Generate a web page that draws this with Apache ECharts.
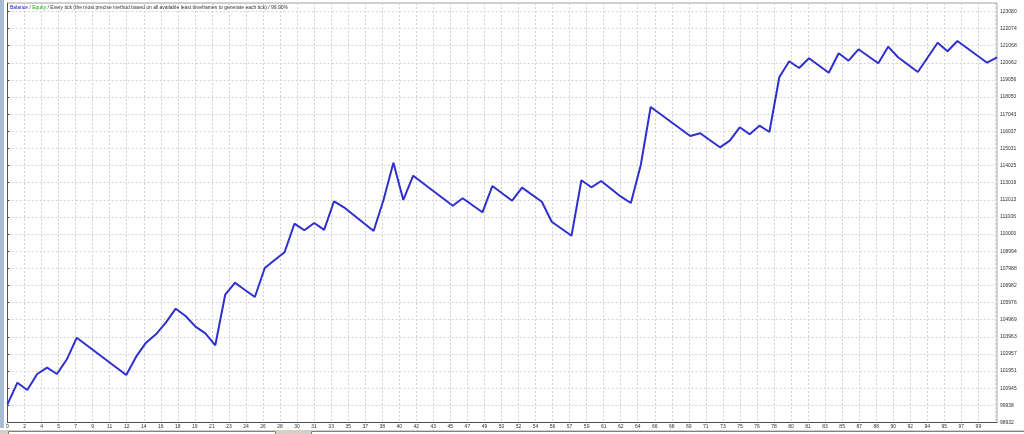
<!DOCTYPE html>
<html>
<head>
<meta charset="utf-8">
<script src="https://cdn.jsdelivr.net/npm/echarts@6/dist/echarts.min.js"></script>
<style>
  html, body { margin: 0; padding: 0; background: #fff; }
  #main { width: 1024px; height: 434px; }
</style>
</head>
<body>
<div id="main"></div>
<script>
// trade number of each visible vertex of the balance line
var tradeIdx = [0, 1, 2, 3, 4, 5, 6, 7, 12, 13, 14, 15, 16, 17, 18, 19, 20, 21, 22, 23, 24, 25, 26, 27, 28, 29, 30, 31, 32, 33, 34,
  37, 38, 39, 40, 41, 45, 46, 48, 49, 51, 52, 54, 55, 57, 58, 59, 60, 62, 63, 64, 65, 69, 70,
  72, 73, 74, 75, 76, 77, 78, 79, 80, 81, 83, 84, 85, 86, 88, 89, 90, 92, 94, 95, 96, 99, 100];
// balance at those trades
var balance = [100000, 101270, 100842, 101782, 102152, 101782, 102645, 103914, 101723, 102798, 103621, 104114, 104796, 105618,
  105189, 104561, 104173, 103468, 106441, 107146, 106717, 106306, 108010, 108480, 108932, 110612, 110225, 110654, 110248, 111929, 111576,
  110184, 112005, 114197, 112005, 113433, 111670, 112105, 111282, 112828, 111964, 112728, 111905, 110730, 109907, 113162, 112751, 113121,
  112199, 111829, 114061, 117469, 115765, 115924, 115101, 115489, 116277, 115865, 116370, 116000, 119214, 120154, 119761, 120331,
  119484, 120624, 120190, 120859, 120037, 121012, 120389, 119526, 121247, 120742, 121347, 120072, 120389];

var xTickLabels = ['0', '2', '4', '5', '7', '9', '11', '12', '14', '16', '18', '19', '21', '23', '24', '26', '28', '30', '31', '33',
  '35', '37', '38', '40', '42', '43', '45', '47', '49', '50', '52', '54', '56', '57', '59', '61', '62', '64', '66', '68', '69',
  '71', '73', '75', '76', '78', '80', '81', '83', '85', '87', '88', '90', '92', '94', '95', '97', '99'];
var yTicks = [98932, 99938, 100945, 101951, 102957, 103963, 104969, 105976, 106982, 107988, 108994, 110000, 111006, 112013,
  113019, 114025, 115031, 116037, 117043, 118050, 119056, 120062, 121068, 122074, 123080];

var xStep = 1.7214; // grid step in trades (MT4 puts ~17px between labels)
var FONT = 'Liberation Sans';

var chart = echarts.init(document.getElementById('main'), null, { renderer: 'canvas' });

var lineData = tradeIdx.map(function (t, i) { return [t, balance[i]]; });

chart.setOption({
  animation: false,
  backgroundColor: '#ffffff',
  grid: { left: 7.5, right: 27, top: 3, bottom: 11.5, show: true, borderColor: '#a0a0a0', borderWidth: 1 },
  graphic: [
    // window frame bits around the chart
    { type: 'rect', left: 0, top: 0, shape: { width: 4, height: 428 }, style: { fill: '#a9bcd6' }, z: 10 },
    { type: 'rect', left: 0, top: 430, shape: { width: 1024, height: 4 }, style: { fill: '#d4d0c8' }, z: 10 },
    { type: 'rect', left: 8, top: 431, shape: { width: 267, height: 4 }, style: { fill: '#ffffff', stroke: '#808080', lineWidth: 1 }, z: 11 },
    { type: 'rect', left: 311, top: 431, shape: { width: 713, height: 4 }, style: { fill: '#ffffff', stroke: '#808080', lineWidth: 1 }, z: 11 },
    {
      type: 'text', left: 10, top: 5, z: 20,
      style: {
        text: '{b|Balance} / {e|Equity} / Every tick (the most precise method based on all available least timeframes to generate each tick) / 99.90%',
        fill: '#333333', fontSize: 5, fontFamily: FONT,
        rich: { b: { fill: '#1010d0', fontSize: 5, fontFamily: FONT }, e: { fill: '#10b010', fontSize: 5, fontFamily: FONT } }
      }
    }
  ],
  xAxis: {
    type: 'value', min: 0, max: 100, interval: xStep,
    axisLine: { show: true, lineStyle: { color: '#505050', width: 1 } },
    axisTick: { show: false },
    axisLabel: {
      fontSize: 5, fontFamily: FONT, color: '#303030', margin: 2, showMaxLabel: false,
      formatter: function (v) { var s = xTickLabels[Math.round(v / xStep)]; return s === undefined ? '' : s; }
    },
    splitLine: { show: true, lineStyle: { color: '#d2d2d2', type: [2, 2], width: 1 } }
  },
  yAxis: {
    type: 'value', position: 'right', min: 98932, max: 123579,
    axisLine: { show: true, lineStyle: { color: '#505050', width: 1 } },
    axisTick: { show: true, length: 2, customValues: yTicks, lineStyle: { color: '#505050' } },
    axisLabel: {
      fontSize: 5, fontFamily: FONT, color: '#303030', margin: 3, customValues: yTicks,
      formatter: function (v) { return String(Math.round(v)); }
    },
    splitLine: { show: true, lineStyle: { color: '#d2d2d2', type: [2, 2], width: 1 } }
  },
  series: [{
    name: 'Balance', type: 'line', data: lineData, showSymbol: false,
    lineStyle: { color: '#2f2fcf', width: 2 },
    clip: true
  }]
});
</script>
</body>
</html>
